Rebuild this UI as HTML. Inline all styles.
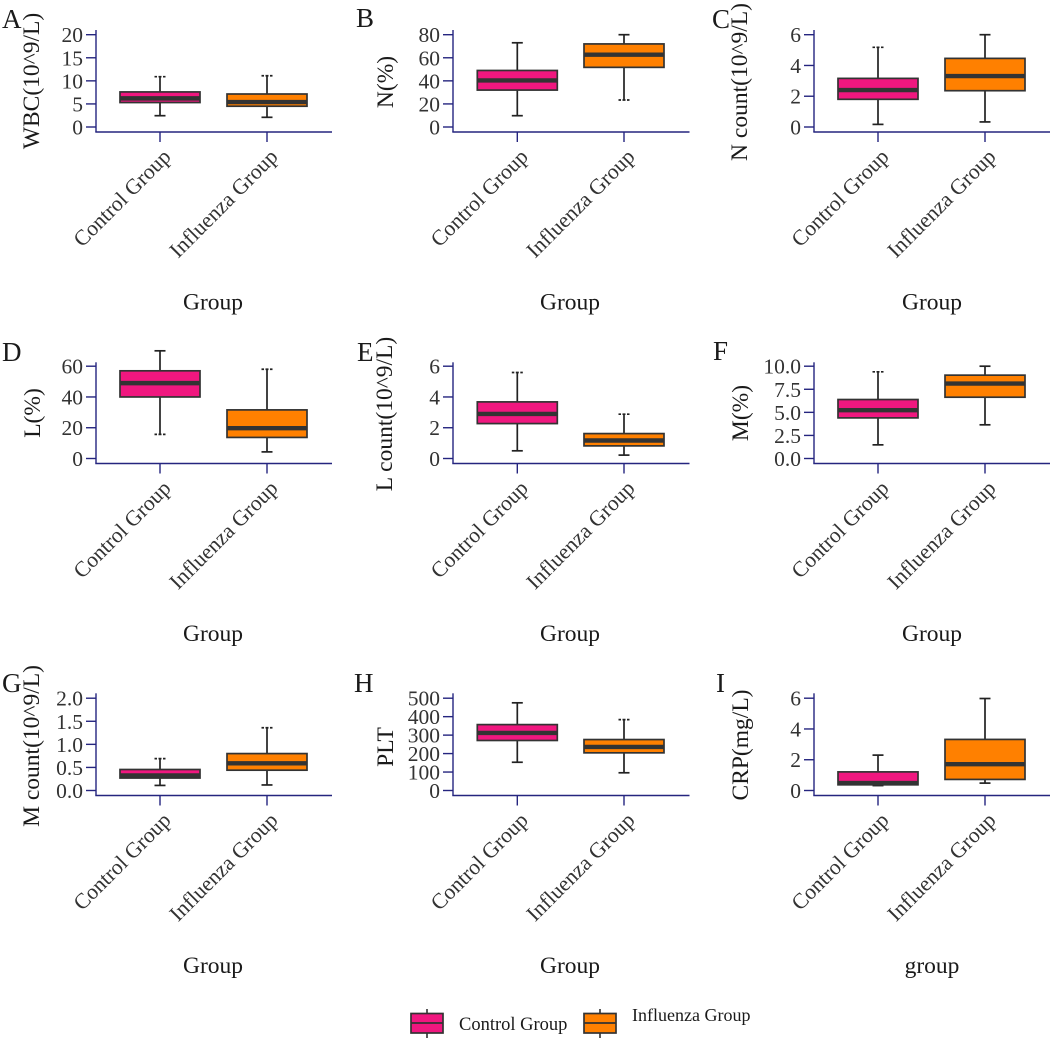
<!DOCTYPE html>
<html lang="en">
<head>
<meta charset="utf-8">
<title>Blood parameters by group</title>
<style>
html,body{margin:0;padding:0;background:#fff;}
svg{display:block;font-family:"Liberation Serif",serif;}
</style>
</head>
<body>
<svg id="chart" xmlns="http://www.w3.org/2000/svg" width="1052" height="1040" viewBox="0 0 1052 1040">
  <g>
    <g>
      <line x1="427" x2="427" y1="1009" y2="1038" stroke="#222" stroke-width="1.5"/>
      <rect x="411" y="1013.5" width="32" height="19.5" fill="#f0177f" stroke="#333" stroke-width="1.7"/>
      <line x1="411" x2="443" y1="1023" y2="1023" stroke="#333" stroke-width="1.7"/>
      <text x="459" y="1030" font-size="18.5" fill="#1a1a1a">Control Group</text>
    </g>
    <g>
      <line x1="600" x2="600" y1="1009" y2="1038" stroke="#222" stroke-width="1.5"/>
      <rect x="584" y="1013.5" width="32" height="19.5" fill="#ff8000" stroke="#333" stroke-width="1.7"/>
      <line x1="584" x2="616" y1="1023" y2="1023" stroke="#333" stroke-width="1.7"/>
      <text x="632" y="1021" font-size="18" fill="#1a1a1a">Influenza Group</text>
    </g>
  </g>
</svg>
<script>
// ---- data ----
const categories = ['Control Group', 'Influenza Group'];
const panelLetters = ['A', 'B', 'C', 'D', 'E', 'F', 'G', 'H', 'I'];
const yTitles = ['WBC(10^9/L)', 'N(%)', 'N count(10^9/L)', 'L(%)', 'L count(10^9/L)', 'M(%)', 'M count(10^9/L)', 'PLT', 'CRP(mg/L)'];
const xTitles = ['Group', 'Group', 'Group', 'Group', 'Group', 'Group', 'Group', 'Group', 'group'];
const yTickLabels = [
  ['0', '5', '10', '15', '20'],
  ['0', '20', '40', '60', '80'],
  ['0', '2', '4', '6'],
  ['0', '20', '40', '60'],
  ['0', '2', '4', '6'],
  ['0.0', '2.5', '5.0', '7.5', '10.0'],
  ['0.0', '0.5', '1.0', '1.5', '2.0'],
  ['0', '100', '200', '300', '400', '500'],
  ['0', '2', '4', '6']
];
const whiskerLow = [[2.45, 2.1], [9.8, 23.4], [0.17, 0.33], [15.7, 4.3], [0.5, 0.22], [1.48, 3.65], [0.11, 0.12], [153, 96], [0.32, 0.48]];
const quartile1 = [[5.3, 4.5], [32, 51.7], [1.8, 2.36], [40, 13.7], [2.27, 0.82], [4.4, 6.64], [0.27, 0.44], [271, 204], [0.37, 0.72]];
const medians = [[6.2, 5.4], [40.4, 62.7], [2.4, 3.31], [49, 19.7], [2.9, 1.17], [5.23, 8.12], [0.325, 0.59], [312, 236], [0.48, 1.71]];
const quartile3 = [[7.6, 7.15], [49, 72], [3.16, 4.46], [57, 31.6], [3.68, 1.62], [6.39, 9.03], [0.455, 0.8], [357, 276], [1.21, 3.32]];
const whiskerHigh = [[10.9, 11.1], [73, 80], [5.18, 6], [70, 58], [5.59, 2.88], [9.39, 10], [0.69, 1.36], [475, 384], [2.3, 5.98]];

// ---- layout ----
const NS = 'http://www.w3.org/2000/svg';
const svg = document.getElementById('chart');
const colAxisX = [96, 453, 814];
const colRight = [332, 689.5, 1050];
const colCats = [[160, 267], [517.3, 624], [878, 985]];
const colTitleX = [213, 570, 932];
const rowBase = [132, 463.5, 795.5];
const rowAxisTop = [30, 362.3, 693.3];
const yTitleBaseline = [39, 393, 747, 40, 392, 748, 39, 393, 748];
const yTitleCenter = [81, 82, 82, 413, 414, 413, 746, 747, 745];
const letterX = [2, 356, 712, 2, 357, 713, 2, 354, 716];
const letterY = [28, 27, 28, 361, 361, 360, 692, 692, 692];
const fills = ['#f0177f', '#ff8000'];
const groupKeys = ['control', 'influenza'];
const BOX_HALF = 40;
const CAP_HALF = 5.5;
const AXIS_COLOR = '#25257f';
// whisker caps that appear broken in the reference: panel-group-end
const brokenCaps = ['0-0-hi', '0-1-hi', '1-1-lo', '2-0-hi', '3-1-hi', '3-0-lo', '4-0-hi', '4-1-hi', '5-0-hi', '6-0-hi', '6-1-hi', '7-1-hi'];

function mk(tag, attrs, parent, text) {
  const el = document.createElementNS(NS, tag);
  for (const k in attrs) el.setAttribute(k, attrs[k]);
  if (text !== undefined) el.textContent = text;
  parent.appendChild(el);
  return el;
}

panelLetters.forEach(function (letter, p) {
  const col = p % 3;
  const row = Math.floor(p / 3);
  const axisX = colAxisX[col];
  const base = rowBase[row];
  const ticks = yTickLabels[p];
  const domMin = parseFloat(ticks[0]);
  const domMax = parseFloat(ticks[ticks.length - 1]);
  const rangeBottom = base - 5;
  const rangeTop = base - 97.3;
  const yScale = function (v) {
    return rangeBottom + (v - domMin) / (domMax - domMin) * (rangeTop - rangeBottom);
  };

  const g = mk('g', {}, svg);
  
  

  const lab = mk('text', { x: letterX[p], y: letterY[p], 'font-size': 27, fill: '#1a1a1a' }, g, letter);
  
  

  const yTitle = mk('text', {
    transform: 'translate(' + yTitleBaseline[p] + ',' + yTitleCenter[p] + ') rotate(-90)',
    'text-anchor': 'middle', 'font-size': 23.5, fill: '#1a1a1a'
  }, g, yTitles[p]);
  
  

  const xTitle = mk('text', {
    x: colTitleX[col], y: base + 177.5, 'text-anchor': 'middle', 'font-size': 23.5, fill: '#1a1a1a'
  }, g, xTitles[p]);
  
  

  ticks.forEach(function (t) {
    const y = yScale(parseFloat(t));
    const tick = mk('line', { x1: axisX - 10, x2: axisX, y1: y, y2: y, stroke: AXIS_COLOR, 'stroke-width': 1.4 }, g);
    
    
    const tl = mk('text', { x: axisX - 13, y: y + 7.5, 'text-anchor': 'end', 'font-size': 21.5, fill: '#333' }, g, t);
    
    
  });

  const yAxis = mk('line', { x1: axisX, x2: axisX, y1: rowAxisTop[row], y2: base, stroke: AXIS_COLOR, 'stroke-width': 1.4 }, g);
  
  
  const xAxis = mk('line', { x1: axisX - 0.7, x2: colRight[col], y1: base, y2: base, stroke: AXIS_COLOR, 'stroke-width': 1.4 }, g);
  
  

  categories.forEach(function (cat, i) {
    const cx = colCats[col][i];
    const tick = mk('line', { x1: cx, x2: cx, y1: base, y2: base + 10, stroke: AXIS_COLOR, 'stroke-width': 1.4 }, g);
    
    
    const tl = mk('text', {
      transform: 'translate(' + (cx + 12) + ',' + (base + 26) + ') rotate(-45)',
      'text-anchor': 'end', 'font-size': 21.7, fill: '#333'
    }, g, cat);
    
    

    const box = mk('g', {}, g);
    
    

    const stem = mk('line', { x1: cx, x2: cx, y1: yScale(whiskerHigh[p][i]), y2: yScale(whiskerLow[p][i]), stroke: '#222', 'stroke-width': 1.7 }, box);
    
    

    [['hi', whiskerHigh[p][i]], ['lo', whiskerLow[p][i]]].forEach(function (c) {
      const y = yScale(c[1]);
      const attrs = { x1: cx - CAP_HALF, x2: cx + CAP_HALF, y1: y, y2: y, stroke: '#222', 'stroke-width': 1.7 };
      if (brokenCaps.indexOf(p + '-' + i + '-' + c[0]) >= 0) attrs['stroke-dasharray'] = '2.5 1.5 3 1.5 2.5';
      const cap = mk('line', attrs, box);
      
      
    });

    const yQ3 = yScale(quartile3[p][i]);
    const yQ1 = yScale(quartile1[p][i]);
    const rect = mk('rect', {
      x: cx - BOX_HALF, y: yQ3, width: BOX_HALF * 2, height: yQ1 - yQ3,
      fill: fills[i], stroke: '#333', 'stroke-width': 1.7
    }, box);
    
    

    const yMed = yScale(medians[p][i]);
    const med = mk('line', { x1: cx - BOX_HALF, x2: cx + BOX_HALF, y1: yMed, y2: yMed, stroke: '#333', 'stroke-width': 4.4 }, box);
    
    
  });
});
</script>
</body>
</html>
